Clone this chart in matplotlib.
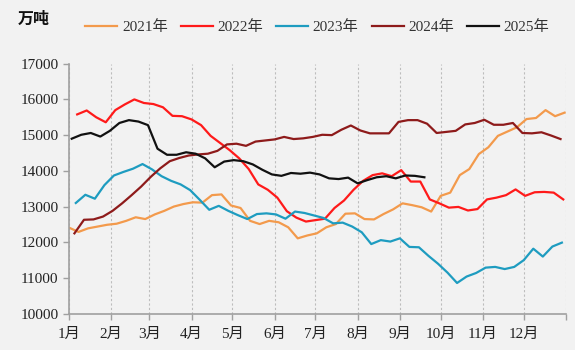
import matplotlib
matplotlib.use("Agg")
import matplotlib.pyplot as plt
import pandas as pd

plt.rcParams['font.family'] = ['Liberation Serif', 'Noto Sans CJK SC', 'DejaVu Sans']

unit_label = "万吨"
month_labels = ["1月", "2月", "3月", "4月", "5月", "6月", "7月", "8月", "9月", "10月", "11月", "12月"]
month_start_days = [0, 31, 59, 90, 120, 151, 181, 212, 243, 273, 304, 334, 365]

years = [2021, 2022, 2023, 2024, 2025]
series_names = ["2021年", "2022年", "2023年", "2024年", "2025年"]
colors = ["#F39A4C", "#FF1A1A", "#1E9CC0", "#8E1B1B", "#111111"]

v2021 = [12410, 12290, 12390, 12440, 12490, 12520, 12600, 12700, 12650, 12780,
         12880, 13000, 13070, 13120, 13110, 13320, 13340, 13030, 12960, 12600,
         12510, 12600, 12560, 12420, 12110, 12190, 12250, 12420, 12510, 12800,
         12810, 12650, 12640, 12790, 12920, 13090, 13040, 12980, 12860, 13300,
         13390, 13880, 14050, 14470, 14660, 14980, 15100, 15220, 15450, 15480,
         15700, 15530, 15630]
v2022 = [15580, 15690, 15500, 15360, 15700, 15860, 16000, 15900, 15870, 15780,
         15540, 15530, 15440, 15280, 14980, 14780, 14580, 14350, 14050, 13620,
         13470, 13250, 12870, 12690, 12580, 12620, 12660, 12960, 13170, 13470,
         13720, 13880, 13930, 13850, 14020, 13700, 13700, 13200, 13090, 12970,
         12990, 12890, 12930, 13200, 13250, 13320, 13480, 13300, 13400, 13410,
         13390, 13200]
v2023 = [13100, 13330, 13220, 13600, 13870, 13970, 14060, 14190, 14040, 13850,
         13720, 13620, 13460, 13190, 12910, 13020, 12880, 12760, 12650, 12790,
         12810, 12780, 12660, 12860, 12820, 12750, 12680, 12530, 12550, 12440,
         12280, 11950, 12060, 12020, 12110, 11870, 11860, 11620, 11400, 11150,
         10860, 11040, 11140, 11290, 11310, 11250, 11310, 11500, 11820, 11600,
         11880, 11990]
v2024 = [12250, 12630, 12640, 12720, 12880, 13090, 13320, 13560, 13830, 14070,
         14270, 14360, 14430, 14460, 14480, 14560, 14740, 14760, 14700, 14820,
         14850, 14880, 14950, 14890, 14910, 14950, 15010, 15000, 15150, 15270,
         15130, 15050, 15050, 15050, 15370, 15420, 15420, 15320, 15060, 15090,
         15120, 15300, 15340, 15430, 15290, 15290, 15340, 15060, 15050, 15080,
         14990, 14890]
v2025 = [14900, 15010, 15060, 14960, 15120, 15340, 15420, 15380, 15280, 14620,
         14450, 14450, 14520, 14480, 14350, 14100, 14260, 14300, 14270, 14180,
         14030, 13900, 13860, 13940, 13920, 13950, 13900, 13790, 13770, 13810,
         13650, 13740, 13820, 13850, 13790, 13870, 13860, 13820]
all_values = [v2021, v2022, v2023, v2024, v2025]

bg = "#F2F2F2"
fig = plt.figure(figsize=(5.75, 3.5), dpi=100, facecolor=bg)
ax = fig.add_axes([0.12, 0.1037, 0.8643, 0.7143], facecolor=bg)

for yr, name, col, vals in zip(years, series_names, colors, all_values):
    dates = pd.date_range(start=f"{yr}-01-01", periods=len(vals), freq="W-FRI")
    x = dates.dayofyear - 1
    ax.plot(x, vals, color=col, lw=1.6, label=name, solid_joinstyle='round')

ax.set_xlim(month_start_days[0], month_start_days[-1])
ax.set_ylim(10000, 17000)
ax.set_yticks(range(10000, 17001, 1000))
ax.set_xticks(month_start_days)
ax.set_xticklabels(month_labels + [""])
ax.grid(axis='x', color="#BDBDBD", linestyle=(0, (2, 2)), linewidth=0.8)
ax.set_axisbelow(True)

for s in ["top", "right"]:
    ax.spines[s].set_visible(False)
for s in ["left", "bottom"]:
    ax.spines[s].set_color("#A0A0A0")
    ax.spines[s].set_linewidth(1.2)
ax.tick_params(axis='both', colors="#A0A0A0", length=4, width=1.0, labelsize=11, labelcolor="#222222")
ax.tick_params(axis='x', pad=6)

fig.text(0.058, 0.945, unit_label, fontsize=11.5, fontweight='bold', ha='center', va='center',
         family=['Noto Sans CJK SC', 'DejaVu Sans'], color="#111111")

leg = fig.legend(loc='center', bbox_to_anchor=(0.552, 0.923), ncol=5, frameon=False,
                 fontsize=11, handlelength=2.1, handletextpad=0.3, columnspacing=0.85,
                 labelcolor="#333333")

fig.savefig("out.png", dpi=100, facecolor=bg)
